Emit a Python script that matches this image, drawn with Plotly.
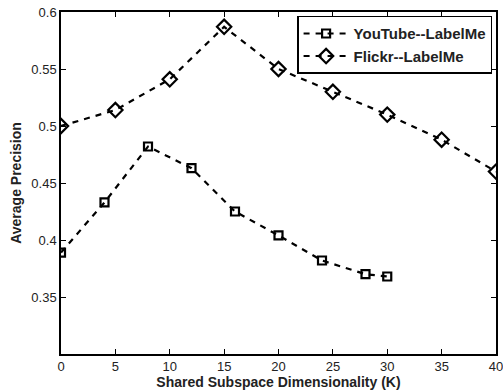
import plotly.graph_objects as go

yt_x = [0, 4, 8, 12, 16, 20, 24, 28, 30]
yt_y = [0.389, 0.433, 0.482, 0.463, 0.425, 0.404, 0.382, 0.370, 0.368]
fl_x = [0, 5, 10, 15, 20, 25, 30, 35, 40]
fl_y = [0.500, 0.514, 0.541, 0.587, 0.550, 0.530, 0.510, 0.488, 0.460]
x_ticks = [0, 5, 10, 15, 20, 25, 30, 35, 40]
y_ticks = [0.35, 0.4, 0.45, 0.5, 0.55, 0.6]
y_tick_text = ["0.35", "0.4", "0.45", "0.5", "0.55", "0.6"]

FONT = "Liberation Sans, Arial, sans-serif"

fig = go.Figure()
fig.add_trace(go.Scatter(
    x=yt_x, y=yt_y, mode="lines+markers", name="<b>YouTube--LabelMe</b>",
    line=dict(color="black", width=2.2, dash="6px,6px"),
    marker=dict(symbol="square-open", size=8, color="black", line=dict(width=2.2, color="black")),
))
fig.add_trace(go.Scatter(
    x=fl_x, y=fl_y, mode="lines+markers", name="<b>Flickr--LabelMe</b>",
    line=dict(color="black", width=2.2, dash="6px,6px"),
    marker=dict(symbol="diamond-open", size=11, color="black", line=dict(width=2.2, color="black")),
))

axis_common = dict(
    showgrid=False, zeroline=False, showline=True, linecolor="black", linewidth=1.5,
    mirror="ticks", ticks="inside", ticklen=5, tickcolor="black", tickwidth=1,
    tickfont=dict(family=FONT, size=13, color="#222"), ticklabeloverflow="allow",
)
fig.update_xaxes(range=[0, 40], tickvals=x_ticks,
                 title=dict(text="<b>Shared Subspace Dimensionality (K)</b>", standoff=2,
                            font=dict(family=FONT, size=14, color="#222")),
                 **axis_common)
fig.update_yaxes(range=[0.3, 0.6], tickvals=y_ticks, ticktext=y_tick_text,
                 title=dict(text="<b>Average Precision</b>", standoff=6,
                            font=dict(family=FONT, size=14, color="#222")),
                 **axis_common)

fig.update_layout(
    width=503, height=391, autosize=False,
    margin=dict(l=61, r=7, t=12, b=37, pad=0, autoexpand=False),
    plot_bgcolor="white", paper_bgcolor="white",
    showlegend=True,
    legend=dict(x=0.991, y=0.989, xanchor="right", yanchor="top",
                bgcolor="white", bordercolor="black", borderwidth=1.5,
                font=dict(family=FONT, size=15, color="#222"),
                tracegroupgap=0, itemwidth=45),
)
fig.write_html("out.html", config={"displayModeBar": False},
               post_script="document.body.style.margin='0';document.body.style.overflow='hidden';")
